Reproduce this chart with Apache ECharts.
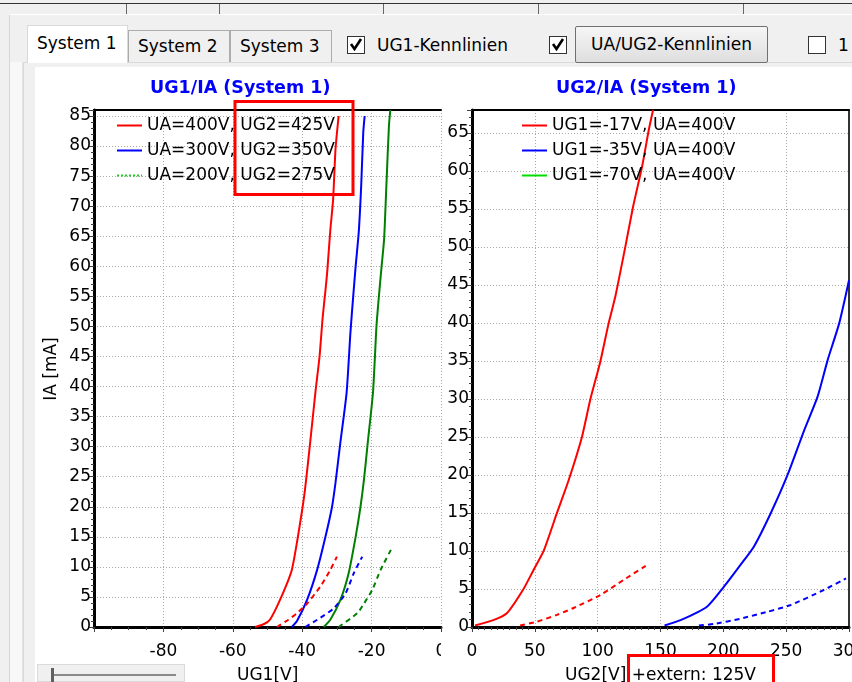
<!DOCTYPE html>
<html>
<head>
<meta charset="utf-8">
<title>UG1/IA - UG2/IA</title>
<script src="https://cdn.jsdelivr.net/npm/echarts@6/dist/echarts.min.js"></script>
<style>
  html, body { margin: 0; padding: 0; }
  body {
    width: 852px; height: 682px; overflow: hidden; position: relative;
    background: #f0f0f0; font-family: 'DejaVu Sans', sans-serif; font-size: 17px; color: #000;
  }
  .abs { position: absolute; box-sizing: border-box; }
  .tab { position: absolute; box-sizing: border-box; border: 1px solid #acacac; border-bottom: none;
         background: #f0f0f0; padding-left: 9px; line-height: 30px; white-space: nowrap; }
  .tab.sel { background: #fff; border-color: #d9d9d9; line-height: 34px; z-index: 2; }
  .cb { position: absolute; width: 18px; height: 18px; box-sizing: border-box;
        border: 1px solid #333; background: #fff; }
  .lbl { position: absolute; white-space: nowrap; line-height: 20px; }
  /* the canvas runs past the window edge, like the cut-off original */
  #chart { position: absolute; left: 0; top: 0; width: 900px; height: 682px; z-index: 3; }
  #slider { position: absolute; left: 37px; top: 664px; width: 148px; height: 18px; z-index: 4;
            background: #f0f0f0; border: 1px solid #dadada; box-sizing: border-box; }
</style>
</head>
<body>
<!-- window chrome -->
<div class="abs" style="left:0;top:3px;width:852px;height:1px;background:#333"></div>
<div class="abs" style="left:126px;top:4px;width:1px;height:10px;background:#666"></div>
<div class="abs" style="left:219px;top:4px;width:1px;height:10px;background:#666"></div>
<div class="abs" style="left:383px;top:4px;width:1px;height:10px;background:#666"></div>
<div class="abs" style="left:538px;top:4px;width:1px;height:10px;background:#666"></div>
<div class="abs" style="left:743px;top:4px;width:1px;height:10px;background:#666"></div>
<div class="abs" style="left:9px;top:14px;width:843px;height:668px;border-left:1px solid #d6d6d6;border-top:1px solid #fff;background:#f0f0f0"></div>
<div class="abs" style="left:10px;top:62px;width:13px;height:620px;background:#f8f8f8;border-right:1px solid #e2e2e2"></div>
<div class="abs" style="left:23px;top:62px;width:829px;height:620px;border-top:1px solid #d9d9d9;border-left:1px solid #d9d9d9;background:#f0f0f0"></div>
<div class="abs" style="left:35px;top:67px;width:817px;height:615px;background:#fff"></div>

<div class="tab sel" style="left:27px;top:25px;width:101px;height:38px;">System 1</div>
<div class="tab" style="left:128px;top:30px;width:102px;height:32px;">System 2</div>
<div class="tab" style="left:230px;top:30px;width:102px;height:32px;">System 3</div>

<div class="cb" style="left:347px;top:36px;">
  <svg width="16" height="16" viewBox="0 0 16 16"><polyline points="3,7 6.5,12 13,2" fill="none" stroke="#000" stroke-width="2.6"/></svg>
</div>
<div class="lbl" style="left:377px;top:35px;">UG1-Kennlinien</div>
<div class="cb" style="left:549px;top:36px;">
  <svg width="16" height="16" viewBox="0 0 16 16"><polyline points="3,7 6.5,12 13,2" fill="none" stroke="#000" stroke-width="2.6"/></svg>
</div>
<div class="abs" style="left:575px;top:26px;width:193px;height:37px;border:1px solid #707070;border-radius:2px;background:linear-gradient(#f6f6f6,#dedede);text-align:center;line-height:34px;">UA/UG2-Kennlinien</div>
<div class="cb" style="left:808px;top:36px;"></div>
<div class="lbl" style="left:838px;top:35px;">1</div>

<div id="chart"></div>
<div id="slider">
  <div class="abs" style="left:14px;top:9px;width:124px;height:2px;background:#8a8a8a"></div>
  <div class="abs" style="left:13px;top:3px;width:3px;height:15px;background:#606060"></div>
</div>

<script>
// ---- data ----
// left chart: UG1 [V] vs IA [mA]; solid = IA, dashed = second current
var ug1Legend = ['UA=400V, UG2=425V', 'UA=300V, UG2=350V', 'UA=200V, UG2=275V'];
var ug1Red = [[-53.6,0],[-51,0.5],[-49.3,1.2],[-46.4,4.5],[-43,9.5],[-40.6,17.3],[-39.2,22.8],[-37.7,30.7],[-36.2,39],[-35,45],[-34.1,51.5],[-33.3,56],[-32.8,59],[-31.9,66],[-31.1,71],[-30.4,79.5],[-29.5,85]];
var ug1Blue = [[-43,0],[-41.5,1],[-38.6,4.5],[-35.7,9.5],[-33.3,15],[-31.4,20],[-30.4,24],[-29,30.7],[-27.2,39],[-26.1,49],[-25.3,55],[-24.6,60],[-23.7,65.7],[-23,73.4],[-22.4,82.3],[-22,85]];
var ug1Green = [[-33.8,0],[-31.9,1.2],[-29,4.5],[-26.6,9],[-24.6,15],[-23.2,20],[-22.2,24.5],[-21.1,30.7],[-19.6,39],[-18.6,50],[-17.9,55],[-17.2,59.5],[-16.4,64.5],[-15.7,74],[-15,83.4],[-14.6,86]];
var ug1RedDash = [[-47.3,0],[-44,1.2],[-41.5,2.3],[-38.6,3.9],[-34.8,6.7],[-31.9,9.5],[-30,11.7]];
var ug1BlueDash = [[-39.1,0],[-35.7,1.2],[-30.9,3.1],[-27.5,5.6],[-25.1,9],[-22.7,11.7]];
var ug1GreenDash = [[-29.5,0],[-24.1,2.3],[-22.2,3.9],[-19.8,6.2],[-17.4,9.5],[-14.2,13.1]];

// right chart: UG2 [V] vs IA [mA]
var ug2Legend = ['UG1=-17V, UA=400V', 'UG1=-35V, UA=400V', 'UG1=-70V, UA=400V'];
var ug2Red = [[2.4,0.2],[17,0.9],[27.7,1.8],[41,5],[49,7.5],[57,10],[67.6,15],[76.9,19.3],[87.5,25],[94.1,29.9],[102.1,34.9],[108.8,40],[114.1,43.5],[122,50],[128.2,55.3],[135.4,60.6],[140.7,65.4],[144.1,68]];
var ug2Blue = [[153.2,0.2],[166,0.9],[187.2,2.7],[200.5,5.3],[213.8,8.2],[224.4,10.6],[237.8,15],[251.1,20],[264.4,25.9],[275,30.3],[283,35.1],[292.3,40],[300,45.6]];
var ug2Green = [];
var ug2RedDash = [[38.3,0.2],[51.6,0.7],[67.6,1.6],[80.8,2.5],[102.1,4.2],[120.7,6.2],[138.8,8.1]];
var ug2BlueDash = [[180.6,0.2],[192.6,0.4],[213.8,1.1],[235.1,2],[253.7,2.9],[280.3,4.9],[297.6,6.4]];

var FONT = 'DejaVu Sans';
var ICON_LINE = 'path://M0 0H25V2H0Z';
var ICON_DOTS = 'path://M0 0h2v2h-2zM4 0h2v2h-2zM8 0h2v2h-2zM12 0h2v2h-2zM16 0h2v2h-2zM20 0h2v2h-2zM24 0h1v2h-1z';
var chart = echarts.init(document.getElementById('chart'));

function line(name, data, color, dashed, axis) {
  return {
    name: name, type: 'line', data: data,
    xAxisIndex: axis, yAxisIndex: axis,
    symbol: 'none', smooth: 0.2, clip: true,
    lineStyle: { color: color, width: 2, type: dashed ? [5, 4] : 'solid' },
    itemStyle: { color: color },
    silent: true
  };
}

function valueAxis(grid, min, max, interval, minor, extra) {
  return Object.assign({
    type: 'value', gridIndex: grid, min: min, max: max, interval: interval,
    axisLine: { onZero: false, lineStyle: { color: '#000', width: 3 } },
    axisTick: { length: 5, lineStyle: { color: '#404040' } },
    minorTick: { show: true, splitNumber: minor, length: 3, lineStyle: { color: '#404040' } },
    axisLabel: { color: '#000', fontFamily: FONT, fontSize: 17 },
    splitLine: { lineStyle: { color: '#a8a8a8', type: [1, 2] } }
  }, extra);
}

function border(grid, min, max, pos) {
  return {
    type: 'value', gridIndex: grid, min: min, max: max, position: pos,
    axisLine: { onZero: false, lineStyle: { color: pos === 'top' ? '#000' : '#333', width: 2 } },
    axisTick: { show: false }, axisLabel: { show: false }, splitLine: { show: false }
  };
}

var legendText = { color: '#000', fontFamily: FONT, fontSize: 17 };
var titleText = { color: '#0000ff', fontFamily: FONT, fontWeight: 'bold', fontSize: 17.5 };

var option = {
  animation: false,
  backgroundColor: 'transparent',
  title: [
    { text: 'UG1/IA (System 1)', left: 150, top: 79, padding: 0, textStyle: titleText },
    { text: 'UG2/IA (System 1)', left: 556, top: 79, padding: 0, textStyle: titleText }
  ],
  grid: [
    { left: 94, top: 110, width: 347, height: 517 },
    { left: 472, top: 110, width: 377, height: 517 }
  ],
  legend: [
    { orient: 'vertical', left: 117, top: 117, padding: 0, itemWidth: 25, itemHeight: 2, itemGap: 8,
      icon: ICON_LINE, selectedMode: false, textStyle: legendText,
      data: [
        { name: ug1Legend[0] },
        { name: ug1Legend[1] },
        { name: ug1Legend[2], icon: ICON_DOTS, itemStyle: { color: '#22cc22' } }
      ] },
    { orient: 'vertical', left: 522, top: 117, padding: 0, itemWidth: 25, itemHeight: 2, itemGap: 8,
      icon: ICON_LINE, selectedMode: false, textStyle: legendText,
      data: ug2Legend }
  ],
  xAxis: [
    valueAxis(0, -100, 0, 20, 4, {
      position: 'bottom',
      axisLabel: { color: '#000', fontFamily: FONT, fontSize: 17, margin: 16, showMinLabel: false }
    }),
    valueAxis(1, 0, 300, 50, 10, {
      position: 'bottom',
      axisLabel: { color: '#000', fontFamily: FONT, fontSize: 17, margin: 16 }
    }),
    border(0, -100, 0, 'top'),
    border(1, 0, 300, 'top')
  ],
  yAxis: [
    valueAxis(0, 0, 86, 5, 5, {
      axisLabel: { color: '#000', fontFamily: FONT, fontSize: 17, margin: 3,
        formatter: function (v) { return v % 5 === 0 ? v : ''; } }
    }),
    valueAxis(1, 0, 68, 5, 5, {
      axisLabel: { color: '#000', fontFamily: FONT, fontSize: 17, margin: 3,
        formatter: function (v) { return v % 5 === 0 ? v : ''; } }
    }),
    border(1, 0, 68, 'right')
  ],
  graphic: [
    { type: 'text', x: 52, y: 369, rotation: Math.PI / 2, z: 50,
      style: { text: 'IA [mA]', fill: '#000', fontFamily: FONT, fontSize: 17, align: 'center', verticalAlign: 'middle' } },
    { type: 'text', x: 237, y: 667, z: 50,
      style: { text: 'UG1[V]', fill: '#000', fontFamily: FONT, fontSize: 17, verticalAlign: 'top' } },
    { type: 'text', x: 565, y: 667, z: 50,
      style: { text: 'UG2[V] +extern: 125V', fill: '#000', fontFamily: FONT, fontSize: 17, verticalAlign: 'top' } },
    // the left canvas ends here, its "0" label is cut
    { type: 'rect', z: 60, shape: { x: 441, y: 637, width: 22, height: 28 }, style: { fill: '#fff' } },
    // red highlight frames
    { type: 'rect', z: 100, shape: { x: 235, y: 101.5, width: 118, height: 93 },
      style: { fill: 'none', stroke: '#ff0000', lineWidth: 3 } },
    { type: 'rect', z: 100, shape: { x: 628.5, y: 655.5, width: 145, height: 40 },
      style: { fill: 'none', stroke: '#ff0000', lineWidth: 3 } }
  ],
  series: [
    line(ug1Legend[0], ug1Red, '#ff0000', false, 0),
    line(ug1Legend[1], ug1Blue, '#0000ff', false, 0),
    line(ug1Legend[2], ug1Green, '#008000', false, 0),
    line('IG2 ' + ug1Legend[0], ug1RedDash, '#ff0000', true, 0),
    line('IG2 ' + ug1Legend[1], ug1BlueDash, '#0000ff', true, 0),
    line('IG2 ' + ug1Legend[2], ug1GreenDash, '#008000', true, 0),
    line(ug2Legend[0], ug2Red, '#ff0000', false, 1),
    line(ug2Legend[1], ug2Blue, '#0000ff', false, 1),
    line(ug2Legend[2], ug2Green, '#00dd00', false, 1),
    line('IG2 ' + ug2Legend[0], ug2RedDash, '#ff0000', true, 1),
    line('IG2 ' + ug2Legend[1], ug2BlueDash, '#0000ff', true, 1)
  ]
};

chart.setOption(option);
window.addEventListener('resize', function () { chart.resize(); });
</script>
</body>
</html>
